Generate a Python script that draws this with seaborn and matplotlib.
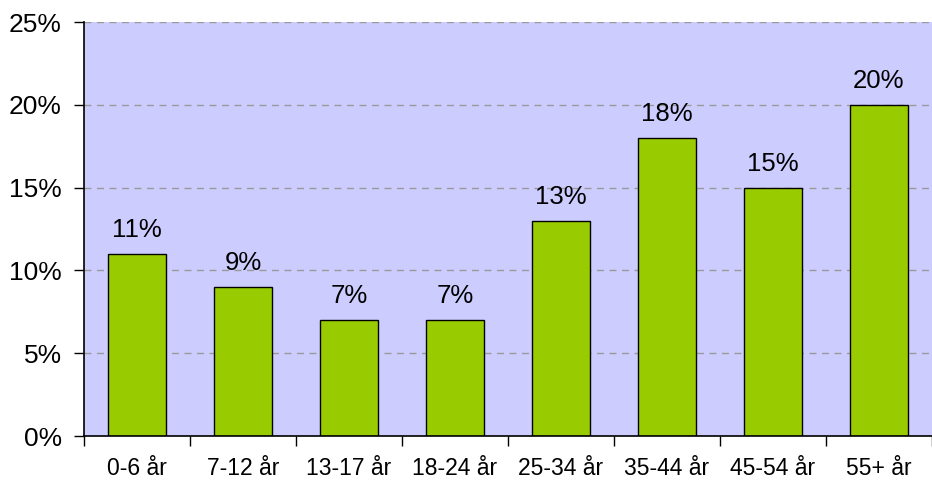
import numpy as np
import pandas as pd
import matplotlib
matplotlib.use("Agg")
import matplotlib.pyplot as plt
import seaborn as sns
from matplotlib.ticker import FixedLocator, FuncFormatter

# data
age_groups = ["0-6 år", "7-12 år", "13-17 år", "18-24 år", "25-34 år", "35-44 år", "45-54 år", "55+ år"]
share_pct = [11, 9, 7, 7, 13, 18, 15, 20]
y_ticks = [0, 5, 10, 15, 20, 25]

df = pd.DataFrame({"age": age_groups, "share": share_pct})

plt.rcParams["font.family"] = ["Liberation Sans", "DejaVu Sans"]

fig = plt.figure(figsize=(9.32, 4.84), dpi=100)
ax = fig.add_axes([84 / 932, 48 / 484, 1 - 84 / 932, (436 - 22) / 484])
ax.set_facecolor("#CCCCFF")

sns.barplot(data=df, x="age", y="share", color="#99CC00", saturation=1,
            edgecolor="black", linewidth=1, width=0.54, ax=ax)

ax.set_ylim(0, 25)
ax.set_xlim(-0.5, len(age_groups) - 0.5)
ax.yaxis.set_major_locator(FixedLocator(y_ticks))
ax.yaxis.set_major_formatter(FuncFormatter(lambda v, p: f"{v:.0f}%"))
ax.grid(axis="y", color="#999999", linestyle=(0, (5, 4)), linewidth=1)
ax.set_axisbelow(True)

# x tick marks sit between categories
ax.xaxis.set_minor_locator(FixedLocator(np.arange(-0.5, len(age_groups), 1.0)))
ax.tick_params(axis="x", which="major", length=0, labelsize=16.5, pad=15)
ax.tick_params(axis="x", which="minor", length=7, width=1, direction="out")
ax.tick_params(axis="y", length=7, width=1, direction="out", labelsize=19, pad=9)

for side in ["top", "right"]:
    ax.spines[side].set_visible(False)
for side in ["left", "bottom"]:
    ax.spines[side].set_linewidth(1.2)

ax.set_xlabel("")
ax.set_ylabel("")

for i, v in enumerate(share_pct):
    ax.annotate(f"{v}%", (i, v), xytext=(0, 12), textcoords="offset points",
                ha="center", va="baseline", fontsize=18.5)

plt.savefig("out.png", dpi=100)
